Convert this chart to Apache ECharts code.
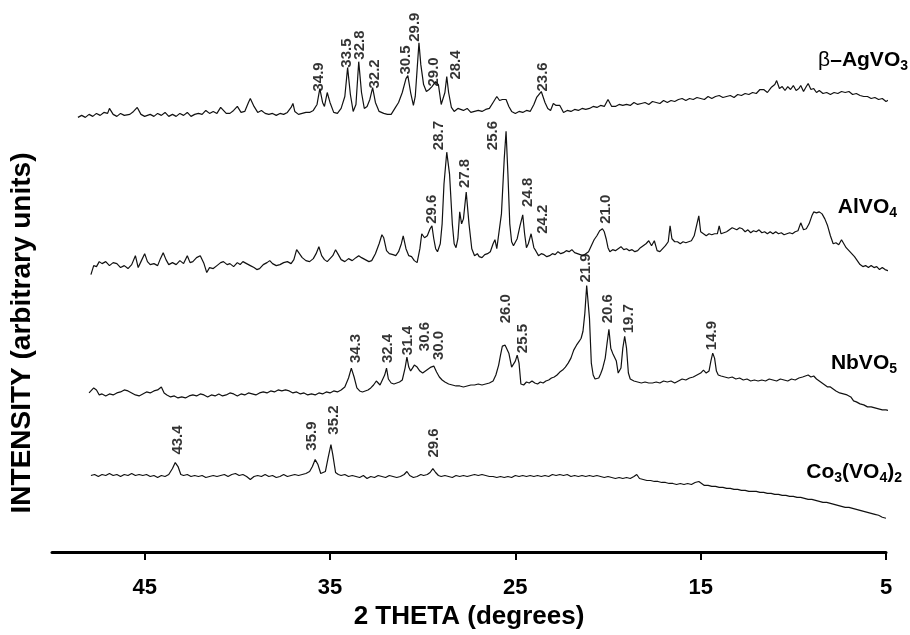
<!DOCTYPE html>
<html>
<head>
<meta charset="utf-8">
<script src="https://cdn.jsdelivr.net/npm/echarts@6/dist/echarts.min.js"></script>
<style>
  html, body { margin: 0; padding: 0; background: #fff; }
  #chart { width: 910px; height: 635px; }
</style>
</head>
<body>
<div id="chart"></div>
<script>
// 2 theta (deg), intensity (arb. units, stacked)
const agVO3 = [
  [48.6,437],[48.4,439],[48.2,437],[48.0,440],[47.8,438],[47.6,441],[47.4,439],[47.2,442],[47.0,441],[46.9,446],
  [46.7,440],[46.5,438],[46.3,441],[46.1,439],[46.0,441],[45.8,440],[45.6,443],[45.4,447],[45.2,440],[45.0,438],
  [44.9,437],[44.7,440],[44.5,438],[44.3,441],[44.1,439],[43.9,442],[43.7,438],[43.5,440],[43.3,438],[43.1,441],
  [42.9,439],[42.7,442],[42.5,438],[42.3,440],[42.1,441],[41.9,440],[41.7,444],[41.5,441],[41.3,443],[41.1,441],
  [40.9,447],[40.8,449],[40.6,441],[40.4,441],[40.2,444],[40.0,448],[39.8,442],[39.6,443],[39.4,452],[39.3,456],
  [39.1,448],[38.9,442],[38.7,444],[38.5,441],[38.3,440],[38.1,441],[37.9,439],[37.7,441],[37.5,440],[37.3,442],
  [37.1,447],[37.0,451],[36.9,443],[36.7,440],[36.5,441],[36.3,442],[36.1,442],[35.9,444],[35.7,450],[35.55,466],
  [35.4,452],[35.3,448],[35.15,462],[35.0,452],[34.8,442],[34.6,441],[34.4,446],[34.2,458],[34.05,487],[33.9,460],
  [33.75,443],[33.6,450],[33.45,493],[33.3,462],[33.15,446],[33.0,448],[32.85,455],[32.7,467],[32.55,452],[32.35,443],
  [32.1,441],[31.9,440],[31.7,440],[31.5,446],[31.3,452],[31.1,462],[30.9,476],[30.8,479],[30.65,462],[30.5,449],
  [30.4,458],[30.3,485],[30.2,512],[30.1,490],[29.95,470],[29.8,463],[29.65,465],[29.5,468],[29.3,473],[29.15,470],
  [29.0,450],[28.9,448],[28.8,462],[28.7,478],[28.6,462],[28.45,447],[28.3,443],[28.1,446],[28.0,448],[27.8,444],
  [27.6,446],[27.4,442],[27.2,443],[27.0,444],[26.8,443],[26.6,445],[26.4,446],[26.2,452],[26.0,458],[25.85,454],
  [25.7,455],[25.5,455],[25.35,448],[25.2,443],[25.0,441],[24.8,443],[24.6,442],[24.4,444],[24.2,443],[24.0,450],
  [23.85,457],[23.6,463],[23.4,452],[23.25,446],[23.1,444],[22.95,451],[22.8,449],[22.6,449],[22.4,442],[22.2,444],
  [22.0,443],[21.8,445],[21.6,444],[21.4,446],[21.2,445],[21.0,446],[20.8,448],[20.6,447],[20.4,449],[20.2,448],
  [20.0,455],[19.8,448],[19.6,448],[19.4,450],[19.2,449],[19.0,450],[18.8,449],[18.6,452],[18.4,450],[18.2,451],
  [18.0,452],[17.8,450],[17.6,453],[17.4,452],[17.2,451],[17.0,454],[16.8,452],[16.6,454],[16.4,453],[16.2,455],
  [16.0,456],[15.8,454],[15.6,456],[15.4,455],[15.2,457],[15.0,456],[14.8,455],[14.6,458],[14.4,456],[14.2,458],
  [14.0,459],[13.8,457],[13.6,458],[13.4,459],[13.2,457],[13.0,460],[12.8,459],[12.6,461],[12.4,460],[12.2,462],
  [12.0,461],[11.8,465],[11.6,465],[11.4,462],[11.2,467],[11.0,470],[10.9,474],[10.75,466],[10.6,468],[10.45,464],
  [10.3,468],[10.15,465],[10.0,469],[9.85,464],[9.7,466],[9.6,469],[9.45,463],[9.3,468],[9.2,471],[9.05,465],
  [8.9,466],[8.75,462],[8.6,464],[8.4,461],[8.2,462],[8.0,460],[7.8,462],[7.6,461],[7.4,463],[7.2,462],
  [7.0,463],[6.8,460],[6.6,461],[6.4,459],[6.2,458],[6.0,458],[5.8,456],[5.6,457],[5.4,455],[5.2,456],
  [5.0,453],[4.8,455],[4.6,453],[4.4,452],[4.2,452]
];

const alVO4 = [
  [47.9,279],[47.75,288],[47.6,287],[47.45,292],[47.3,290],[47.1,292],[46.9,288],[46.7,291],[46.5,290],[46.3,286],
  [46.1,288],[45.9,285],[45.7,289],[45.5,298],[45.35,286],[45.2,292],[45.0,300],[44.85,292],[44.7,289],[44.5,290],
  [44.3,288],[44.15,295],[44.0,301],[43.85,294],[43.7,289],[43.5,291],[43.3,289],[43.1,293],[42.9,290],[42.7,298],
  [42.55,291],[42.4,292],[42.2,296],[42.0,298],[41.8,290],[41.65,281],[41.5,286],[41.3,285],[41.1,288],[40.9,291],
  [40.75,292],[40.55,289],[40.4,290],[40.2,287],[40.0,291],[39.85,289],[39.7,292],[39.5,290],[39.3,288],[39.1,286],
  [38.95,284],[38.8,285],[38.6,289],[38.4,291],[38.25,293],[38.1,290],[37.9,288],[37.7,289],[37.5,291],[37.3,292],
  [37.1,290],[36.95,294],[36.8,304],[36.7,305],[36.5,296],[36.3,293],[36.1,292],[35.9,295],[35.75,300],[35.6,307],
  [35.45,298],[35.3,294],[35.15,292],[35.0,295],[34.85,298],[34.7,304],[34.55,299],[34.4,294],[34.2,292],[34.0,295],
  [33.8,293],[33.6,296],[33.45,298],[33.3,296],[33.1,294],[32.9,292],[32.75,293],[32.55,300],[32.35,310],[32.2,319],
  [32.1,316],[31.95,303],[31.8,300],[31.6,299],[31.45,298],[31.3,302],[31.15,310],[31.05,318],[30.9,305],[30.75,298],
  [30.6,297],[30.45,293],[30.3,291],[30.15,305],[30.05,320],[29.9,316],[29.75,318],[29.6,325],[29.5,328],[29.4,315],
  [29.3,305],[29.2,302],[29.05,310],[28.95,330],[28.85,370],[28.7,402],[28.55,380],[28.4,330],[28.3,310],[28.2,306],
  [28.1,315],[28.0,342],[27.9,330],[27.8,335],[27.65,362],[27.5,330],[27.35,305],[27.2,298],[27.05,300],[26.95,297],
  [26.8,296],[26.65,299],[26.5,300],[26.35,302],[26.2,310],[26.1,314],[26.0,305],[25.9,304],[25.75,340],[25.6,395],
  [25.5,423],[25.4,380],[25.3,330],[25.2,312],[25.1,308],[25.0,310],[24.9,315],[24.75,328],[24.6,339],[24.5,320],
  [24.4,306],[24.3,310],[24.15,320],[24.0,306],[23.9,303],[23.75,298],[23.6,300],[23.45,299],[23.3,297],[23.15,298],
  [23.0,300],[22.85,299],[22.7,302],[22.55,300],[22.4,301],[22.25,303],[22.1,302],[21.95,304],[21.8,301],[21.65,300],
  [21.5,299],[21.35,298],[21.2,300],[21.05,302],[20.9,308],[20.75,314],[20.6,318],[20.45,323],[20.3,325],[20.2,322],
  [20.1,315],[20.0,306],[19.9,302],[19.75,304],[19.6,303],[19.45,305],[19.3,307],[19.15,304],[19.0,305],[18.85,303],
  [18.7,304],[18.55,302],[18.4,303],[18.25,306],[18.1,308],[17.95,310],[17.8,313],[17.65,308],[17.5,313],[17.35,303],
  [17.2,302],[17.05,305],[16.9,308],[16.75,312],[16.65,328],[16.55,315],[16.4,312],[16.25,312],[16.1,310],[15.95,312],
  [15.8,311],[15.65,312],[15.5,313],[15.35,318],[15.2,330],[15.1,338],[15.0,322],[14.85,320],[14.7,318],[14.55,320],
  [14.4,319],[14.25,320],[14.1,320],[14.0,328],[13.9,320],[13.75,321],[13.6,322],[13.45,324],[13.3,326],[13.2,328],
  [13.05,324],[12.9,326],[12.75,325],[12.6,322],[12.45,324],[12.3,321],[12.15,323],[12.0,322],[11.85,324],[11.7,321],
  [11.55,322],[11.4,320],[11.25,322],[11.1,320],[10.95,322],[10.8,320],[10.65,321],[10.5,319],[10.35,320],[10.2,321],
  [10.05,320],[9.9,322],[9.75,323],[9.6,331],[9.45,324],[9.3,325],[9.15,330],[9.0,338],[8.9,342],[8.75,341],
  [8.6,342],[8.45,340],[8.3,335],[8.15,328],[8.0,318],[7.85,310],[7.7,311],[7.55,309],[7.4,314],[7.3,312],
  [7.15,306],[7.0,303],[6.85,300],[6.7,297],[6.55,293],[6.4,289],[6.25,287],[6.1,288],[5.95,286],[5.8,288],
  [5.65,286],[5.5,287],[5.35,284],[5.2,286],[5.05,284],[4.9,283],[4.8,283]
];

const nbVO5 = [
  [48.0,160],[47.9,160],[47.75,165],[47.6,163],[47.45,158],[47.3,159],[47.1,157],[46.9,159],[46.7,158],[46.5,160],
  [46.3,161],[46.1,163],[45.9,162],[45.7,160],[45.5,158],[45.3,157],[45.1,159],[44.9,161],[44.7,160],[44.5,162],
  [44.3,163],[44.1,166],[43.95,160],[43.8,158],[43.6,156],[43.4,157],[43.2,155],[43.0,156],[42.8,155],[42.6,157],
  [42.4,158],[42.2,157],[42.0,159],[41.8,158],[41.6,156],[41.4,158],[41.2,157],[41.0,159],[40.8,157],[40.6,158],
  [40.4,160],[40.2,159],[40.0,157],[39.8,159],[39.6,158],[39.4,160],[39.2,159],[39.0,158],[38.8,160],[38.6,161],
  [38.4,160],[38.2,162],[38.0,161],[37.8,163],[37.6,162],[37.4,163],[37.2,162],[37.0,160],[36.8,161],[36.6,159],
  [36.4,160],[36.2,158],[36.0,159],[35.8,158],[35.6,160],[35.4,159],[35.2,161],[35.0,160],[34.8,162],[34.6,161],
  [34.4,163],[34.2,166],[34.0,175],[33.85,185],[33.7,176],[33.55,165],[33.4,162],[33.25,161],[33.1,162],[32.95,163],
  [32.8,165],[32.65,168],[32.5,172],[32.4,171],[32.3,168],[32.2,170],[32.05,178],[31.95,185],[31.85,174],[31.7,170],
  [31.55,169],[31.4,170],[31.25,171],[31.1,173],[30.95,185],[30.85,196],[30.75,186],[30.65,182],[30.55,185],[30.45,188],
  [30.3,186],[30.15,182],[30.0,180],[29.85,182],[29.7,184],[29.55,186],[29.4,187],[29.25,181],[29.1,176],[28.95,173],
  [28.8,171],[28.6,169],[28.4,168],[28.2,167],[28.0,167],[27.8,166],[27.6,167],[27.4,168],[27.2,168],[27.0,169],
  [26.8,168],[26.6,169],[26.4,170],[26.2,172],[26.05,178],[25.9,188],[25.8,198],[25.7,207],[25.55,208],[25.45,206],
  [25.35,200],[25.2,186],[25.1,185],[25.0,192],[24.9,198],[24.8,190],[24.7,169],[24.55,168],[24.4,171],[24.25,170],
  [24.1,172],[23.95,170],[23.8,169],[23.65,171],[23.5,170],[23.35,172],[23.2,173],[23.05,175],[22.9,176],[22.75,178],
  [22.6,181],[22.45,183],[22.3,186],[22.15,190],[22.0,195],[21.85,203],[21.7,208],[21.55,212],[21.45,215],[21.35,222],
  [21.25,240],[21.15,268],[21.1,270],[21.0,235],[20.9,190],[20.8,178],[20.7,174],[20.6,173],[20.5,175],[20.4,179],
  [20.3,184],[20.15,195],[20.05,210],[19.95,224],[19.85,205],[19.75,200],[19.65,200],[19.55,192],[19.45,180],[19.38,178],
  [19.3,185],[19.2,205],[19.1,217],[19.0,205],[18.9,180],[18.8,174],[18.6,172],[18.4,171],[18.2,170],[18.0,171],
  [17.8,170],[17.6,170],[17.4,171],[17.2,170],[17.0,172],[16.8,171],[16.6,172],[16.4,170],[16.2,172],[16.0,174],
  [15.8,173],[15.6,175],[15.4,176],[15.2,178],[15.0,180],[14.85,183],[14.7,180],[14.55,182],[14.45,192],[14.35,200],
  [14.25,195],[14.15,182],[14.05,178],[13.9,177],[13.7,176],[13.5,175],[13.3,176],[13.1,174],[12.9,175],[12.7,173],
  [12.5,174],[12.3,172],[12.1,173],[11.9,172],[11.7,173],[11.5,172],[11.3,174],[11.1,173],[10.9,172],[10.7,174],
  [10.5,173],[10.3,172],[10.1,174],[9.9,173],[9.7,175],[9.5,176],[9.35,177],[9.2,178],[9.05,176],[8.9,177],
  [8.75,174],[8.6,172],[8.45,170],[8.3,168],[8.15,166],[8.0,166],[7.85,164],[7.7,162],[7.5,160],[7.3,159],
  [7.1,158],[6.9,156],[6.75,152],[6.6,151],[6.4,149],[6.2,148],[6.0,146],[5.8,146],[5.6,145],[5.4,144],
  [5.2,143],[5.0,143],[4.8,142],[4.6,142],[4.5,142]
];

const co3VO42 = [
  [47.9,77],[47.7,78],[47.5,76],[47.3,78],[47.1,77],[46.9,79],[46.7,77],[46.5,78],[46.3,76],[46.1,78],
  [45.9,77],[45.7,79],[45.5,77],[45.3,78],[45.1,77],[44.9,78],[44.7,76],[44.5,77],[44.3,75],[44.1,77],
  [43.9,76],[43.7,78],[43.5,84],[43.35,90],[43.2,86],[43.05,78],[42.9,77],[42.7,78],[42.5,76],[42.3,77],
  [42.1,76],[41.9,77],[41.7,75],[41.5,76],[41.3,77],[41.1,76],[40.9,77],[40.7,78],[40.5,76],[40.3,78],
  [40.1,79],[39.9,77],[39.7,78],[39.5,76],[39.3,73],[39.1,76],[38.9,77],[38.7,76],[38.5,78],[38.3,76],
  [38.1,77],[37.9,75],[37.7,76],[37.5,78],[37.3,76],[37.1,77],[36.9,78],[36.7,77],[36.5,78],[36.3,79],
  [36.1,81],[35.95,86],[35.8,93],[35.65,88],[35.5,79],[35.4,77],[35.25,81],[35.1,95],[34.95,108],[34.85,98],
  [34.7,80],[34.55,78],[34.4,77],[34.2,78],[34.0,76],[33.8,77],[33.6,76],[33.4,75],[33.2,77],[33.0,74],
  [32.8,76],[32.6,75],[32.4,77],[32.2,76],[32.0,75],[31.8,77],[31.6,76],[31.4,75],[31.2,76],[31.0,78],
  [30.85,81],[30.7,77],[30.5,75],[30.3,76],[30.1,78],[29.95,77],[29.75,78],[29.6,80],[29.45,84],[29.3,80],
  [29.15,77],[29.0,76],[28.8,77],[28.6,76],[28.4,75],[28.2,77],[28.0,76],[27.8,77],[27.6,76],[27.4,77],
  [27.2,78],[27.0,77],[26.8,78],[26.6,77],[26.4,76],[26.2,76],[26.0,75],[25.8,76],[25.6,75],[25.4,76],
  [25.2,75],[25.0,77],[24.8,76],[24.6,77],[24.4,76],[24.2,77],[24.0,76],[23.8,77],[23.6,76],[23.4,77],
  [23.2,76],[23.0,78],[22.8,77],[22.6,78],[22.4,77],[22.2,78],[22.0,76],[21.8,77],[21.6,76],[21.4,77],
  [21.2,76],[21.0,77],[20.8,76],[20.6,77],[20.4,76],[20.2,75],[20.0,76],[19.8,75],[19.6,74],[19.4,75],
  [19.2,74],[19.0,75],[18.8,74],[18.6,76],[18.45,78],[18.3,74],[18.1,73],[17.9,72],[17.7,72],[17.5,71],
  [17.3,71],[17.1,70],[16.9,70],[16.7,69],[16.5,69],[16.3,68],[16.1,69],[15.9,68],[15.7,69],[15.5,68],
  [15.3,70],[15.1,71],[14.95,69],[14.8,67],[14.6,67],[14.4,66],[14.2,66],[14.0,65],[13.8,65],[13.6,64],
  [13.4,64],[13.2,63],[13.0,63],[12.8,62],[12.6,62],[12.4,61],[12.2,61],[12.0,61],[11.8,60],[11.6,60],
  [11.4,59],[11.2,59],[11.0,58],[10.8,58],[10.6,57],[10.4,57],[10.2,56],[10.0,56],[9.8,55],[9.6,55],
  [9.4,54],[9.2,53],[9.0,53],[8.8,52],[8.6,51],[8.4,50],[8.2,50],[8.0,49],[7.8,48],[7.6,47],
  [7.4,46],[7.2,45],[7.0,45],[6.8,44],[6.6,43],[6.4,42],[6.2,41],[6.0,40],[5.8,39],[5.6,38],
  [5.4,37],[5.2,35],[5.0,34]
];

// peak labels: [2theta of label, intensity of label foot, text]
const agPeaks = [[35.6,463,'34.9'],[34.1,487,'33.5'],[33.4,495,'32.8'],[32.6,466,'32.2'],[30.9,480,'30.5'],
  [30.4,513,'29.9'],[29.4,468,'29.0'],[28.2,475,'28.4'],[23.5,463,'23.6']];
const alPeaks = [[29.5,330,'29.6'],[29.1,404,'28.7'],[27.7,366,'27.8'],[26.2,404,'25.6'],[24.3,347,'24.8'],
  [23.5,320,'24.2'],[20.1,330,'21.0']];
const nbPeaks = [[33.6,190,'34.3'],[31.9,190,'32.4'],[30.8,198,'31.4'],[29.9,202,'30.6'],[29.1,193,'30.0'],
  [25.5,230,'26.0'],[24.6,200,'25.5'],[21.2,271,'21.9'],[20.0,230,'20.6'],[18.9,220,'19.7'],[14.4,203,'14.9']];
const coPeaks = [[43.2,98,'43.4'],[36.0,102,'35.9'],[34.8,118,'35.2'],[29.4,95,'29.6']];

const xTicks = [5, 15, 25, 35, 45];

const FONT = "'Liberation Sans', Arial, Helvetica, sans-serif";
const chart = echarts.init(document.getElementById('chart'));

function trace(data) {
  return {
    type: 'line', data: data, symbol: 'none', clip: false, silent: true,
    lineStyle: { color: '#111', width: 1.2 }
  };
}
function peakLabels(list) {
  return {
    type: 'scatter', data: list, symbolSize: 0, silent: true, clip: false,
    label: {
      show: true, position: 'top', distance: 0, rotate: 90,
      align: 'left', verticalAlign: 'middle',
      formatter: p => p.value[2],
      color: '#000', fontFamily: FONT, fontWeight: 'bold', fontSize: 15
    }
  };
}
function nameText(right, top, rich, text) {
  return { type: 'text', right: right, top: top, style: { text: text, rich: rich } };
}

const main = { fontFamily: FONT, fontWeight: 'bold', fontSize: 21, lineHeight: 26, fill: '#000' };
const sub = { fontFamily: FONT, fontWeight: 'bold', fontSize: 14, lineHeight: 26, verticalAlign: 'bottom', fill: '#000' };
const rich = { m: main, s: sub, g: Object.assign({}, main, { fontWeight: 'normal' }) };

chart.setOption({
  animation: false,
  backgroundColor: '#fff',
  grid: { left: 52, right: 24, top: 0, bottom: 80 },
  xAxis: {
    type: 'value', min: 5, max: 50, inverse: true,
    name: '2 THETA (degrees)', nameLocation: 'middle', nameGap: 51,
    nameTextStyle: { color: '#000', fontFamily: FONT, fontWeight: 'bold', fontSize: 26 },
    axisLine: { lineStyle: { color: '#000', width: 3 } },
    axisTick: { customValues: xTicks, length: 8, lineStyle: { color: '#000', width: 2 } },
    axisLabel: { customValues: xTicks, margin: 25, color: '#000', fontFamily: FONT, fontWeight: 'bold', fontSize: 22 },
    splitLine: { show: false }
  },
  yAxis: { type: 'value', min: 0, max: 555, show: false },
  series: [
    trace(agVO3), trace(alVO4), trace(nbVO5), trace(co3VO42),
    peakLabels(agPeaks), peakLabels(alPeaks), peakLabels(nbPeaks), peakLabels(coPeaks)
  ],
  graphic: [
    {
      type: 'text', x: 22, y: 333, rotation: Math.PI / 2,
      style: { text: 'INTENSITY (arbitrary units)', align: 'center', verticalAlign: 'middle',
        fontFamily: FONT, fontWeight: 'bold', fontSize: 28, fill: '#000' }
    },
    nameText(2, 50, rich, '{g|β}{m|–AgVO}{s|3}'),
    nameText(13, 197, rich, '{m|AlVO}{s|4}'),
    nameText(13, 353, rich, '{m|NbVO}{s|5}'),
    nameText(8, 462, rich, '{m|Co}{s|3}{m|(VO}{s|4}{m|)}{s|2}')
  ]
});
</script>
</body>
</html>
